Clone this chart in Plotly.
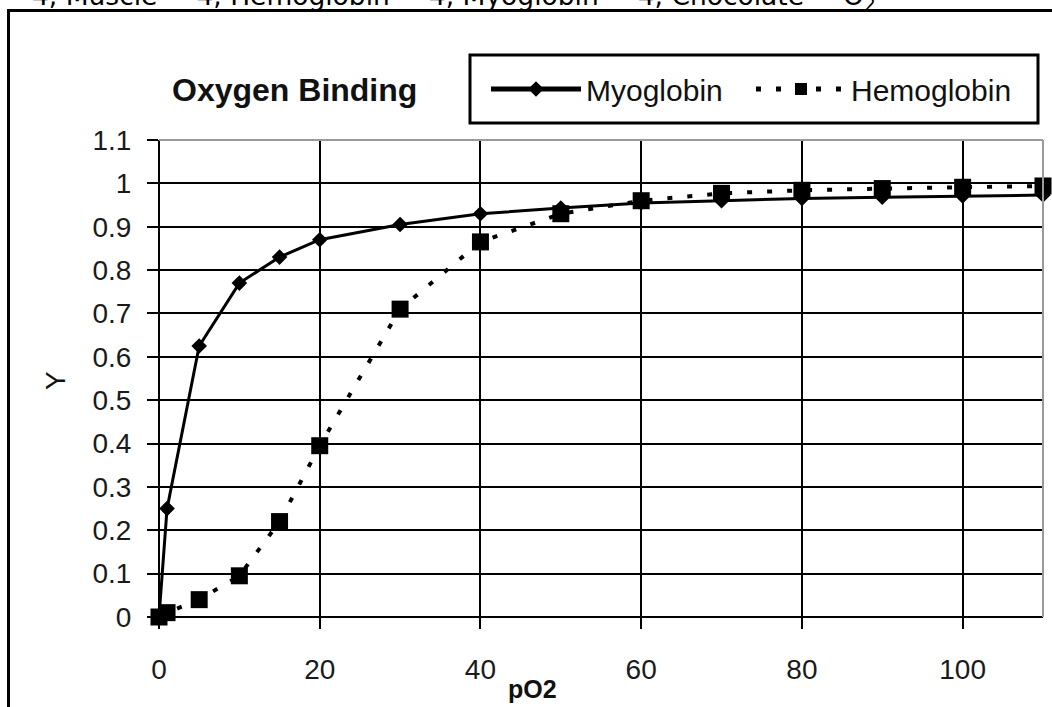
import plotly.graph_objects as go

# ---- data ----
po2 = [0, 1, 5, 10, 15, 20, 30, 40, 50, 60, 70, 80, 90, 100, 110]
myoglobin = [0, 0.25, 0.625, 0.77, 0.83, 0.87, 0.905, 0.93, 0.943, 0.955, 0.96, 0.965, 0.968, 0.971, 0.973]
hemoglobin = [0, 0.01, 0.04, 0.095, 0.22, 0.395, 0.71, 0.865, 0.93, 0.96, 0.977, 0.984, 0.988, 0.991, 0.994]

x_ticks = [0, 20, 40, 60, 80, 100]
y_ticks = [0, 0.1, 0.2, 0.3, 0.4, 0.5, 0.6, 0.7, 0.8, 0.9, 1.0, 1.1]
y_tick_text = ["0", "0.1", "0.2", "0.3", "0.4", "0.5", "0.6", "0.7", "0.8", "0.9", "1", "1.1"]

W, H = 1052, 707
L, R, T, B = 159, 1043, 140, 617  # plot area in pixels


def px(x):
    return (x - L) / (R - L)


def py(y):
    return (B - y) / (B - T)


fig = go.Figure()
fig.add_trace(go.Scatter(
    x=po2, y=myoglobin, name="Myoglobin", mode="lines+markers",
    line=dict(color="black", width=3),
    marker=dict(symbol="diamond", size=12, color="black"),
    cliponaxis=False,
))
fig.add_trace(go.Scatter(
    x=po2, y=hemoglobin, name="Hemoglobin", mode="lines+markers",
    line=dict(color="black", width=4, dash="5px,15px"),
    marker=dict(symbol="square", size=17, color="black"),
    cliponaxis=False,
))

axis_font = dict(family="Liberation Sans, Arial, sans-serif", size=28, color="#1a1a1a")

fig.update_layout(
    width=W, height=H,
    margin=dict(l=L, r=W - R, t=T, b=H - B, pad=0),
    paper_bgcolor="white", plot_bgcolor="white",
    showlegend=True,
    legend=dict(
        orientation="h", x=px(486), y=py(89), xanchor="left", yanchor="middle",
        bgcolor="rgba(0,0,0,0)", borderwidth=0,
        font=dict(family="Liberation Sans, Arial, sans-serif", size=30, color="#111"),
        itemwidth=90, itemsizing="constant", entrywidth=160, entrywidthmode="pixels",
    ),
    xaxis=dict(
        range=[0, 110], tickvals=x_ticks, showgrid=True, gridcolor="black", gridwidth=2,
        zeroline=False, showline=False, ticks="outside", ticklen=11, tickwidth=2,
        tickcolor="black", tickfont=axis_font, ticklabelstandoff=16,
    ),
    yaxis=dict(
        range=[0, 1.1], tickvals=y_ticks, ticktext=y_tick_text, showgrid=True,
        gridcolor="black", gridwidth=2, zeroline=False, showline=False,
        ticks="outside", ticklen=11, tickwidth=2, tickcolor="black",
        tickfont=axis_font, ticklabelstandoff=10,
    ),
    shapes=[
        # plot border (gray top/right)
        dict(type="line", xref="paper", yref="paper", x0=0, x1=1, y0=1, y1=1,
             line=dict(color="#9a9a9a", width=2), layer="above"),
        dict(type="line", xref="paper", yref="paper", x0=1, x1=1, y0=0, y1=1,
             line=dict(color="#9a9a9a", width=2), layer="above"),
        dict(type="line", xref="paper", yref="paper", x0=0, x1=0, y0=0, y1=1,
             line=dict(color="black", width=2), layer="below"),
        dict(type="line", xref="paper", yref="paper", x0=0, x1=1, y0=0, y1=0,
             line=dict(color="black", width=2), layer="below"),
        # outer chart frame
        dict(type="rect", xref="paper", yref="paper", x0=px(8.5), x1=px(1070), y0=py(730), y1=py(10.5),
             line=dict(color="black", width=3), fillcolor="rgba(0,0,0,0)", layer="above"),
        # legend box
        dict(type="rect", xref="paper", yref="paper", x0=px(470), x1=px(1038), y0=py(123), y1=py(55),
             line=dict(color="black", width=3), fillcolor="white", layer="above"),
    ],
    annotations=[
        dict(text="<b>Oxygen Binding</b>", xref="paper", yref="paper", x=px(170), y=py(90),
             xanchor="left", yanchor="middle", showarrow=False,
             font=dict(family="Liberation Sans, Arial, sans-serif", size=32, color="#111")),
        dict(text="Y", xref="paper", yref="paper", x=px(55), y=py(381), textangle=-90,
             xanchor="center", yanchor="middle", showarrow=False,
             font=dict(family="Liberation Sans, Arial, sans-serif", size=28, color="#111")),
        dict(text="<b>pO2</b>", xref="paper", yref="paper", x=px(532), y=py(689),
             xanchor="center", yanchor="middle", showarrow=False,
             font=dict(family="Liberation Sans, Arial, sans-serif", size=25, color="#111")),
        dict(text="4, Muscle = 4, Hemoglobin = 4, Myoglobin = 4, Chocolate = O<sub>2</sub>",
             xref="paper", yref="paper", x=px(30), y=py(17), xanchor="left", yanchor="bottom",
             showarrow=False,
             font=dict(family="DejaVu Sans, sans-serif", size=26.5, color="black")),
    ],
)

fig.write_html("out.html")
